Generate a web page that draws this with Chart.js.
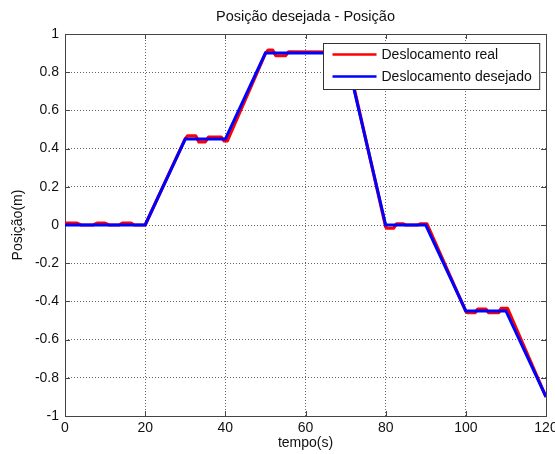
<!DOCTYPE html>
<html>
<head>
<meta charset="utf-8">
<script src="https://cdn.jsdelivr.net/npm/chart.js@4/dist/chart.umd.min.js"></script>
<style>
html,body{margin:0;padding:0;background:#fff;overflow:hidden;width:555px;height:454px;}
canvas{display:block;}
</style>
</head>
<body>
<canvas id="posChart" width="565" height="454"></canvas>
<script>
// desired displacement (blue)
const timeDesired=[0,20,30,40,50,70,80,90,100,110,120];
const posDesired=[0,0,0.45,0.45,0.9,0.9,0,0,-0.45,-0.45,-0.9];

// real displacement (red)
const timeReal=[0,3,4,7,8,10,11,13.5,14.3,16.5,17.3,20,
	30,30.6,32.6,33.4,35,35.8,39,39.7,40.5,
	50.1,50.7,51.8,52.6,55,55.8,70.1,
	80,80.4,82,82.7,84.3,85,88,88.6,90.3,
	100,100.4,102.3,103,105,105.7,108.2,108.8,110.4,120];
const posReal=[0.01,0.01,0,0,0.01,0.01,0,0,0.01,0.01,0,0,
	0.452,0.467,0.467,0.435,0.435,0.46,0.46,0.44,0.44,
	0.902,0.916,0.916,0.886,0.886,0.907,0.905,
	-0.01,-0.017,-0.017,0.006,0.006,0,0,0.006,0.006,
	-0.452,-0.459,-0.459,-0.44,-0.44,-0.459,-0.459,-0.437,-0.437,-0.9];

const xTicks=[0,20,40,60,80,100,120];
const yTicks=[-1,-0.8,-0.6,-0.4,-0.2,0,0.2,0.4,0.6,0.8,1];

const labelReal="Deslocamento real";
const labelDesired="Deslocamento desejado";
const colReal="#ff0000", colDesired="#0000ff";

Chart.defaults.font.family="Arial, 'Liberation Sans', Helvetica, sans-serif";
Chart.defaults.font.size=14;
Chart.defaults.color="#111";

// box around plot + inward tick marks (matlab style)
const framePlugin={
	id:"frame",
	beforeDatasetsDraw(chart){
		let c=chart.ctx, a=chart.chartArea;
		let xs=chart.scales.x, ys=chart.scales.y;
		c.save();
		c.strokeStyle="#444";
		c.lineWidth=1;
		c.beginPath();
		xTicks.forEach(v=>{
			let px=Math.round(xs.getPixelForValue(v))+0.5;
			c.moveTo(px,a.bottom);c.lineTo(px,a.bottom-5);
			c.moveTo(px,a.top);c.lineTo(px,a.top+5);
		});
		yTicks.forEach(v=>{
			let py=Math.round(ys.getPixelForValue(v))+0.5;
			c.moveTo(a.left,py);c.lineTo(a.left+5,py);
			c.moveTo(a.right,py);c.lineTo(a.right-5,py);
		});
		c.stroke();
		c.strokeRect(Math.round(a.left)+0.5,Math.round(a.top)+0.5,Math.round(a.right-a.left),Math.round(a.bottom-a.top));
		c.restore();
	}
};

// legend box inside the plot, top right
const boxLegend={
	id:"boxLegend",
	afterDraw(chart){
		let c=chart.ctx, a=chart.chartArea;
		c.save();
		c.font="14px Arial, 'Liberation Sans', sans-serif";
		let items=chart.data.datasets.slice().sort((p,q)=>p.legendIdx-q.legendIdx);
		let tw=Math.max(...items.map(d=>c.measureText(d.label).width));
		let w=9+44+5+tw+8, h=46;
		let x0=Math.round(a.right-7-w)+0.5, y0=Math.round(a.top+9)+0.5;
		c.fillStyle="#fff";
		c.fillRect(x0,y0,w,h);
		c.strokeStyle="#333";
		c.lineWidth=1;
		c.strokeRect(x0,y0,w,h);
		items.forEach((d,i)=>{
			let yy=y0+11+i*22;
			c.strokeStyle=d.borderColor;
			c.lineWidth=2.5;
			c.beginPath();
			c.moveTo(x0+9,yy);c.lineTo(x0+53,yy);
			c.stroke();
			c.fillStyle="#111";
			c.textBaseline="middle";
			c.fillText(d.label,x0+58,yy+1);
		});
		c.restore();
	}
};

new Chart(document.getElementById("posChart").getContext("2d"),{
	type:"line",
	data:{
		datasets:[{
			label:labelReal,
			legendIdx:0,
			data:timeReal.map((t,i)=>({x:t,y:posReal[i]})),
			borderColor:colReal,
			backgroundColor:colReal,
			borderWidth:3.2,
			borderJoinStyle:"round",
			pointRadius:0,
			fill:false,
			tension:0,
			order:2
		},{
			label:labelDesired,
			legendIdx:1,
			data:timeDesired.map((t,i)=>({x:t,y:posDesired[i]})),
			borderColor:colDesired,
			backgroundColor:colDesired,
			borderWidth:3,
			pointRadius:0,
			fill:false,
			tension:0,
			order:1
		}]
	},
	options:{
		responsive:false,
		animation:false,
		layout:{padding:{left:0,right:19,top:0,bottom:0}},
		plugins:{
			legend:{display:false},
			tooltip:{enabled:false},
			title:{
				display:true,
				text:"Posição desejada - Posição",
				fullSize:false,
				font:{size:14.5,weight:"normal"},
				color:"#111",
				padding:{top:8,bottom:8.6}
			}
		},
		scales:{
			x:{
				type:"linear",
				min:0,max:120,
				afterBuildTicks:s=>{s.ticks=xTicks.map(v=>({value:v}));},
				afterFit:s=>{s.height=38;},
				ticks:{padding:4,maxRotation:0,font:{size:14}},
				grid:{color:"#666",lineWidth:1,drawTicks:false},
				border:{display:false,dash:[1,2]},
				title:{display:true,text:"tempo(s)",font:{size:14},padding:{top:0,bottom:2}}
			},
			y:{
				min:-1,max:1,
				afterBuildTicks:s=>{s.ticks=yTicks.map(v=>({value:v}));},
				afterFit:s=>{s.width=65;},
				ticks:{padding:6,font:{size:14},callback:v=>String(+v.toFixed(1))},
				grid:{color:"#666",lineWidth:1,drawTicks:false},
				border:{display:false,dash:[1,2]},
				title:{display:true,text:"Posição(m)",font:{size:14},padding:{top:10,bottom:0}}
			}
		}
	},
	plugins:[framePlugin,boxLegend]
});
</script>
</body>
</html>
